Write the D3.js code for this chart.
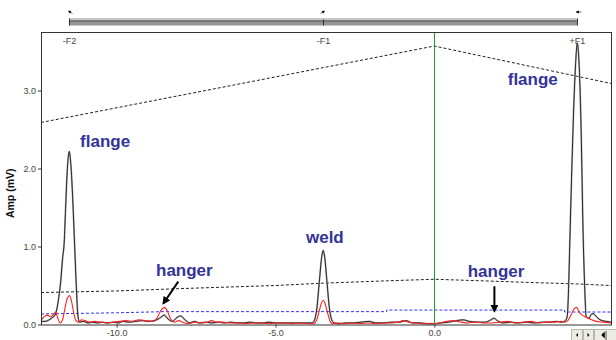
<!DOCTYPE html>
<html>
<head>
<meta charset="utf-8">
<script src="https://cdn.jsdelivr.net/npm/d3@7"></script>
<style>
  body { margin: 0; background: #fff; }
  svg { display: block; font-family: "Liberation Sans", Arial, sans-serif; }
</style>
</head>
<body>
<div id="chart"></div>
<script>
// axis ranges and ticks
const xDomain = [-12.38, 5.56];
const yDomain = [0, 3.75];
const xTicks = [-10, -5, 0];
const yTicks = [0, 1, 2, 3];

// feature markers on the top bar
const markerNames = ["-F2", "-F1", "+F1"];
const markerPos = [-11.5, -3.5, 4.5];

// black trace
const blackX = [-12.38, -12.25, -12.12, -12.02, -11.94, -11.88, -11.82, -11.76, -11.70, -11.65, -11.60, -11.55, -11.49, -11.44, -11.38, -11.32, -11.27, -11.22, -11.17,
  -11.05, -10.90, -10.75, -10.60, -10.45, -10.30, -10.10, -9.95, -9.80, -9.60, -9.40, -9.20, -9.00, -8.80, -8.65, -8.50, -8.38, -8.25, -8.10, -7.98, -7.85, -7.70,
  -7.55, -7.40, -7.20, -7.00, -6.80, -6.60, -6.40, -6.20, -6.00, -5.80, -5.60, -5.40, -5.20, -5.00, -4.80, -4.60, -4.40, -4.20, -4.00, -3.85,
  -3.78, -3.70, -3.62, -3.55, -3.50, -3.45, -3.38, -3.30, -3.22, -3.15, -3.00, -2.80, -2.55, -2.30, -2.05, -1.85, -1.60, -1.35, -1.10, -0.88,
  -0.70, -0.45, -0.20, 0.00, 0.20, 0.45, 0.70, 0.90, 1.10, 1.35, 1.60, 1.78, 1.88, 1.98, 2.15, 2.40, 2.65, 2.90, 3.15, 3.40, 3.65, 3.85, 4.00, 4.12,
  4.18, 4.22, 4.26, 4.32, 4.38, 4.44, 4.50, 4.56, 4.62, 4.68, 4.73, 4.78, 4.86, 4.94, 5.00, 5.10, 5.22, 5.40, 5.56];
const blackAmp = [0.04, 0.04, 0.06, 0.09, 0.12, 0.20, 0.35, 0.55, 0.85, 1.05, 1.55, 2.00, 2.22, 2.05, 1.60, 1.00, 0.50, 0.12, 0.03,
  0.04, 0.02, 0.03, 0.02, 0.03, 0.02, 0.03, 0.02, 0.04, 0.03, 0.04, 0.05, 0.04, 0.05, 0.08, 0.12, 0.07, 0.04, 0.09, 0.11, 0.06, 0.02,
  0.04, 0.02, 0.03, 0.02, 0.03, 0.02, 0.03, 0.02, 0.02, 0.03, 0.02, 0.02, 0.03, 0.02, 0.02, 0.02, 0.02, 0.02, 0.02, 0.02,
  0.05, 0.20, 0.55, 0.85, 0.95, 0.86, 0.55, 0.20, 0.05, 0.02, 0.01, 0.02, 0.02, 0.03, 0.04, 0.02, 0.02, 0.03, 0.03, 0.05,
  0.02, 0.02, 0.01, 0.01, 0.02, 0.03, 0.05, 0.06, 0.04, 0.03, 0.03, 0.06, 0.08, 0.05, 0.02, 0.03, 0.02, 0.03, 0.02, 0.03, 0.03, 0.04, 0.03, 0.05,
  0.10, 0.40, 1.00, 1.90, 2.70, 3.30, 3.61, 3.30, 2.50, 1.20, 0.50, 0.10, 0.08, 0.13, 0.14, 0.10, 0.06, 0.04, 0.03];

// red trace
const redX = [-12.38, -12.28, -12.18, -12.08, -12.00, -11.92, -11.85, -11.78, -11.70, -11.62, -11.55, -11.48, -11.42, -11.35, -11.28, -11.20, -11.10, -11.00,
  -10.85, -10.70, -10.50, -10.30, -10.10, -9.90, -9.70, -9.50, -9.30, -9.10, -8.90, -8.75, -8.62, -8.50, -8.40, -8.30, -8.18, -8.05, -7.92, -7.75,
  -7.55, -7.35, -7.15, -7.01, -6.85, -6.65, -6.45, -6.20, -5.95, -5.70, -5.45, -5.20, -4.95, -4.70, -4.45, -4.20, -3.95, -3.80,
  -3.70, -3.62, -3.55, -3.50, -3.44, -3.36, -3.28, -3.20, -3.05, -2.85, -2.60, -2.35, -2.10, -1.85, -1.60, -1.35, -1.15, -0.98, -0.80,
  -0.60, -0.35, -0.10, 0.00, 0.15, 0.40, 0.60, 0.85, 1.05, 1.30, 1.55, 1.80, 2.05, 2.30, 2.55, 2.80, 3.05, 3.30, 3.55, 3.80, 3.97,
  4.10, 4.20, 4.30, 4.40, 4.48, 4.56, 4.65, 4.75, 4.85, 4.95, 5.10, 5.30, 5.56];
const redAmp = [0.05, 0.10, 0.12, 0.10, 0.12, 0.16, 0.08, 0.02, 0.06, 0.22, 0.34, 0.37, 0.30, 0.15, 0.05, 0.03, 0.06, 0.05,
  0.03, 0.04, 0.03, 0.02, 0.03, 0.04, 0.05, 0.04, 0.06, 0.05, 0.04, 0.07, 0.17, 0.22, 0.17, 0.07, 0.03, 0.05, 0.03, 0.01,
  0.03, 0.02, 0.03, 0.05, 0.03, 0.03, 0.02, 0.02, 0.01, 0.02, 0.02, 0.01, 0.02, 0.02, 0.01, 0.02, 0.01, 0.01,
  0.06, 0.18, 0.28, 0.31, 0.27, 0.15, 0.04, 0.01, 0.02, 0.01, 0.02, 0.01, 0.02, 0.01, 0.02, 0.02, 0.03, 0.05, 0.03,
  0.02, 0.01, 0.01, 0.01, 0.02, 0.04, 0.05, 0.03, 0.02, 0.03, 0.02, 0.02, 0.03, 0.04, 0.02, 0.03, 0.04, 0.02, 0.03, 0.03, 0.04,
  0.03, 0.05, 0.12, 0.20, 0.22, 0.16, 0.12, 0.10, 0.08, 0.06, 0.04, 0.03, 0.02];

// reference curves (dashed)
const dacHighX = [-12.38, 0, 5.56];
const dacHighAmp = [2.59, 3.57, 3.09];
const dacLowX = [-12.38, -10, -8, -5, -3.5, -1.5, 0, 1.5, 3.3, 4.5, 5.56];
const dacLowAmp = [0.41, 0.43, 0.46, 0.50, 0.53, 0.56, 0.58, 0.56, 0.535, 0.52, 0.50];
const threshX = [-12.38, -10, -8.5, -1.5, -1.5, 4.1, 4.1, 5.56];
const threshAmp = [0.135, 0.15, 0.165, 0.165, 0.185, 0.185, 0.16, 0.16];

// annotations
const noteText = ["flange", "flange", "weld", "hanger", "hanger"];
const noteX = [-11.15, 2.31, -4.04, -8.76, 1.05];
const noteAmp = [2.27, 3.07, 1.05, 0.62, 0.61];
const arrowFromX = [-8.06, 1.89];
const arrowFromAmp = [0.55, 0.49];
const arrowToX = [-8.53, 1.89];
const arrowToAmp = [0.27, 0.17];

const width = 616, height = 340;
const margin = {top: 32, right: 5, bottom: 15.5, left: 41};

const svg = d3.select("#chart").append("svg")
  .attr("width", width)
  .attr("height", height);

const x = d3.scaleLinear().domain(xDomain).range([margin.left, width - margin.right]);
const y = d3.scaleLinear().domain(yDomain).range([height - margin.bottom, margin.top]);

svg.append("defs").append("marker")
  .attr("id", "head")
  .attr("viewBox", "0 0 10 10")
  .attr("refX", 8).attr("refY", 5)
  .attr("markerWidth", 4).attr("markerHeight", 4)
  .attr("orient", "auto")
  .append("path")
  .attr("d", "M0,0L10,5L0,10z")
  .attr("fill", "#000");

// top bar
const barY = 18.5;
svg.append("rect")
  .attr("x", x(markerPos[0])).attr("y", barY)
  .attr("width", x(markerPos[2]) - x(markerPos[0])).attr("height", 7)
  .attr("fill", "#959595");
svg.append("rect")
  .attr("x", x(markerPos[0])).attr("y", barY)
  .attr("width", x(markerPos[2]) - x(markerPos[0])).attr("height", 2)
  .attr("fill", "#c4c4c4");
svg.append("line")
  .attr("x1", x(markerPos[0])).attr("x2", x(markerPos[2]))
  .attr("y1", barY + 2.5).attr("y2", barY + 2.5)
  .attr("stroke", "#555").attr("stroke-width", 1);
markerPos.forEach(function(p, i) {
  const px = Math.round(x(p)) + 0.5;
  svg.append("line")
    .attr("x1", px).attr("x2", px)
    .attr("y1", barY + (i == 1 ? 1 : 0)).attr("y2", barY + 7)
    .attr("stroke", "#333");
  // little direction arrows above the bar
  const dir = [[-3, -3], [3, -3], [-4, 0]][i];
  svg.append("line")
    .attr("x1", px - dir[0]).attr("y1", 12 - dir[1] * 0.5)
    .attr("x2", px + dir[0] * 0.3).attr("y2", 12 + dir[1] * 0.3)
    .attr("stroke", "#555").attr("stroke-width", 0.8)
    .attr("marker-end", "url(#head)");
  svg.append("text")
    .attr("x", px).attr("y", 44)
    .attr("text-anchor", "middle")
    .attr("font-size", 9)
    .attr("fill", "#444")
    .text(markerNames[i]);
});

// axes
const xAxis = svg.append("g")
  .attr("transform", "translate(0," + y(0) + ")")
  .call(d3.axisBottom(x).tickValues(xTicks).tickSize(3).tickPadding(2).tickFormat(d => d.toFixed(1)));
const yAxis = svg.append("g")
  .attr("transform", "translate(" + x(xDomain[0]) + ",0)")
  .call(d3.axisLeft(y).tickValues(yTicks).tickSize(3).tickPadding(2).tickFormat(d => d.toFixed(1)));
[xAxis, yAxis].forEach(function(a) {
  a.select(".domain").remove();
  a.selectAll("text").attr("font-size", 9).attr("fill", "#444").attr("font-family", "Liberation Sans, Arial, sans-serif");
  a.selectAll("line").attr("stroke", "#333");
});

svg.append("text")
  .attr("transform", "translate(14," + ((y(yDomain[0]) + y(yDomain[1])) / 2 + 15) + ") rotate(-90)")
  .attr("text-anchor", "middle")
  .attr("font-size", 10.5)
  .attr("font-weight", "bold")
  .attr("fill", "#111")
  .text("Amp (mV)");

const line = d3.line()
  .x(d => x(d[0]))
  .y(d => y(d[1]));
const smooth = d3.line()
  .x(d => x(d[0]))
  .y(d => y(d[1]))
  .curve(d3.curveMonotoneX);

// dashed reference curves
svg.append("path")
  .attr("d", line(d3.zip(dacHighX, dacHighAmp)))
  .attr("fill", "none").attr("stroke", "#222").attr("stroke-width", 1)
  .attr("stroke-dasharray", "3,2");
svg.append("path")
  .attr("d", line(d3.zip(dacLowX, dacLowAmp)))
  .attr("fill", "none").attr("stroke", "#222").attr("stroke-width", 1)
  .attr("stroke-dasharray", "3,2");
svg.append("path")
  .attr("d", line(d3.zip(threshX, threshAmp)))
  .attr("fill", "none").attr("stroke", "#3030ff").attr("stroke-width", 1)
  .attr("stroke-dasharray", "3,2");

// traces
svg.append("path")
  .attr("d", smooth(d3.zip(blackX, blackAmp)))
  .attr("fill", "none").attr("stroke", "#b4b4b4").attr("stroke-width", 1.8);
svg.append("path")
  .attr("d", smooth(d3.zip(blackX, blackAmp)))
  .attr("fill", "none").attr("stroke", "#000").attr("stroke-width", 0.8);
svg.append("path")
  .attr("d", smooth(d3.zip(redX, redAmp)))
  .attr("fill", "none").attr("stroke", "#ff2020").attr("stroke-width", 1.1);

// zero line
svg.append("line")
  .attr("x1", Math.round(x(0)) + 0.5).attr("x2", Math.round(x(0)) + 0.5)
  .attr("y1", y(yDomain[1])).attr("y2", y(0))
  .attr("stroke", "#1f9f1f").attr("stroke-width", 1);

// frame
svg.append("rect")
  .attr("x", x(xDomain[0]) + 0.5).attr("y", y(yDomain[1]) + 0.5)
  .attr("width", x(xDomain[1]) - x(xDomain[0]))
  .attr("height", y(0) - y(yDomain[1]))
  .attr("fill", "none").attr("stroke", "#333");

// annotations
noteText.forEach(function(t, i) {
  svg.append("text")
    .attr("x", x(noteX[i])).attr("y", y(noteAmp[i]))
    .attr("font-size", 17)
    .attr("font-weight", "bold")
    .attr("fill", "#333399")
    .text(t);
});
arrowFromX.forEach(function(ax, i) {
  svg.append("line")
    .attr("x1", x(ax)).attr("y1", y(arrowFromAmp[i]))
    .attr("x2", x(arrowToX[i])).attr("y2", y(arrowToAmp[i]))
    .attr("stroke", "#000").attr("stroke-width", 2)
    .attr("marker-end", "url(#head)");
});

// scroll buttons bottom right
const btnX = [571, 583, 594];
const btnW = [11, 10, 22];
btnX.forEach(function(bx, i) {
  svg.append("rect")
    .attr("x", bx + 0.5).attr("y", 329.5)
    .attr("width", btnW[i]).attr("height", 12)
    .attr("fill", "#ecebe4").attr("stroke", "#b8b8b0");
  const cx = bx + (i == 2 ? 9 : btnW[i] / 2 + 0.5);
  const s = i == 2 ? 3.5 : 2;
  const d = i == 1 ? `M${cx - s / 2},${335 - s}L${cx + s / 2},335L${cx - s / 2},${335 + s}z`
                   : `M${cx + s / 2},${335 - s}L${cx - s / 2},335L${cx + s / 2},${335 + s}z`;
  svg.append("path").attr("d", d).attr("fill", "#000");
  if (i == 2) {
    svg.append("line").attr("x1", cx + 3).attr("x2", cx + 3)
      .attr("y1", 331).attr("y2", 340).attr("stroke", "#555");
  }
});
</script>
</body>
</html>
